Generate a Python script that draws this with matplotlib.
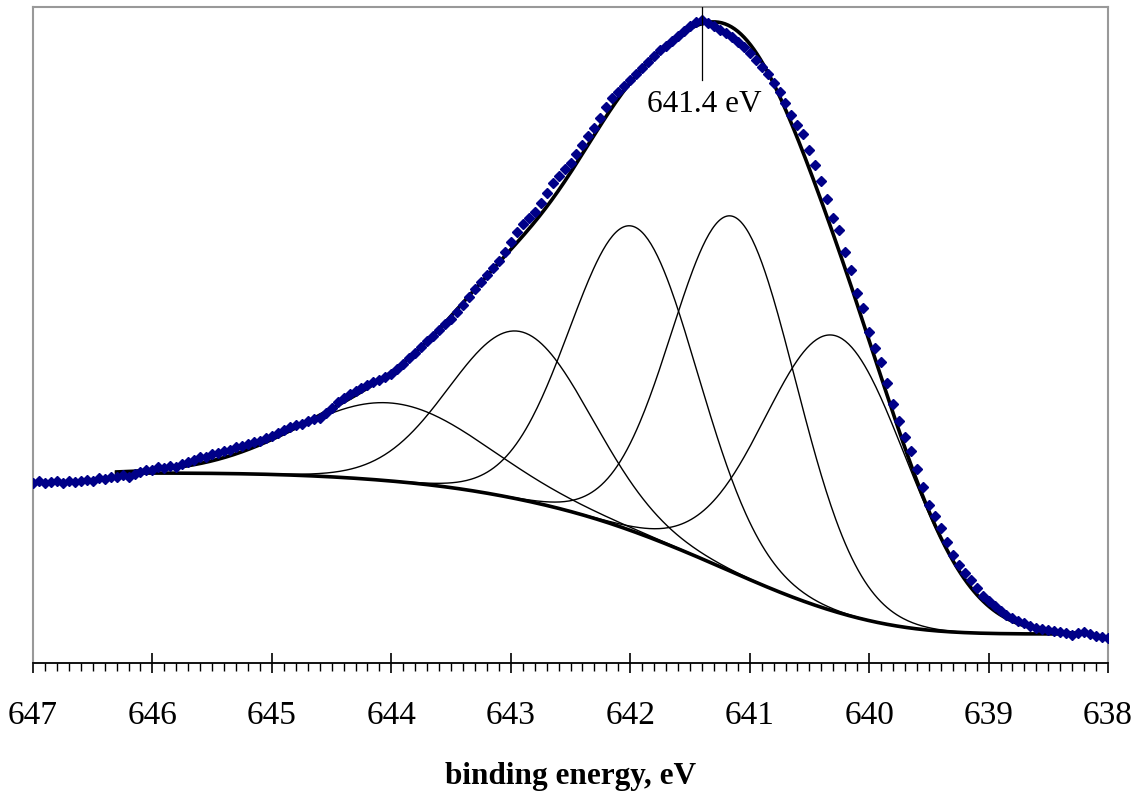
import numpy as np
import matplotlib
matplotlib.use("Agg")
import matplotlib.pyplot as plt
from matplotlib.ticker import MultipleLocator

plt.rcParams['font.family'] = ['Liberation Serif', 'DejaVu Serif']

# measured spectrum: binding energy 647 -> 638 eV, step 0.05 eV (arb. intensity)
energy_start, energy_step = 647.0, 0.05
intensity = [
    180, 182, 180, 181, 182, 180, 182, 181, 182, 183, 182, 185, 184, 186, 186, 188,
    186, 189, 191, 193, 193, 196, 195, 197, 196, 199, 201, 203, 206, 206, 209, 210,
    212, 213, 216, 217, 219, 221, 222, 225, 227, 230, 233, 236, 238, 239, 242, 244,
    245, 250, 255, 261, 265, 269, 272, 275, 278, 281, 283, 286, 289, 294, 299, 305,
    310, 316, 322, 327, 333, 339, 344, 351, 358, 366, 374, 381, 388, 395, 402, 411,
    421, 431, 439, 445, 451, 460, 470, 480, 487, 494, 500, 509, 518, 527, 535, 545,
    556, 565, 571, 577, 583, 589, 595, 601, 607, 613, 617, 622, 627, 632, 637, 641,
    643, 640, 637, 633, 630, 626, 621, 616, 610, 603, 596, 589, 580, 571, 560, 548,
    538, 529, 513, 498, 482, 464, 445, 433, 411, 393, 370, 355, 331, 315, 301, 280,
    259, 242, 226, 212, 194, 176, 158, 147, 135, 121, 108, 98, 90, 83, 75, 67,
    62, 57, 52, 48, 45, 42, 40, 37, 35, 34, 33, 32, 31, 30, 28, 30,
    31, 29, 27, 26, 25,
]
energy = energy_start - energy_step * np.arange(len(intensity))

# fitted components (Gaussian) on a Shirley background
peak_centers = [644.0, 642.92, 641.97, 641.13, 640.28]
peak_heights = [78, 168, 305, 356, 276]
peak_fwhm = [1.85, 1.38, 1.25, 1.22, 1.4]
fit_range = (646.3, 638.25)
bg_high, bg_low = 190, 29
peak_label = 641.4

e_fit = np.linspace(fit_range[1], fit_range[0], 600)
comps = [h * np.exp(-4 * np.log(2) * (e_fit - c) ** 2 / w ** 2)
         for c, h, w in zip(peak_centers, peak_heights, peak_fwhm)]
total = np.sum(comps, axis=0)
area = np.cumsum(total)
bg = bg_low + (bg_high - bg_low) * (area - area[0]) / (area[-1] - area[0])
envelope = total + bg

fig = plt.figure(figsize=(11.36, 7.92), dpi=100)
ax = fig.add_axes([33 / 1136, 1 - 663 / 792, 1075 / 1136, 656 / 792])

ax.plot(e_fit, bg, color='black', lw=2.6, zorder=2)
for comp in comps:
    ax.plot(e_fit, comp + bg, color='black', lw=1.0, zorder=2)
ax.plot(e_fit, envelope, color='black', lw=2.6, zorder=3)
ax.plot(energy, intensity, ls='none', marker='D', ms=5, color='#000088', zorder=4)

ax.plot([peak_label, peak_label], [656, 583], color='black', lw=0.9, zorder=5)
ax.text(peak_label - 0.02, 559, f'{peak_label} eV', ha='center', va='center',
        fontsize=22.5, zorder=6)

ax.set_xlim(647, 638)
ax.set_ylim(0, 656)
ax.xaxis.set_major_locator(MultipleLocator(1))
ax.xaxis.set_minor_locator(MultipleLocator(0.1))
ax.tick_params(axis='x', which='major', direction='inout', length=14, width=1.2,
               labelsize=24, pad=20)
ax.tick_params(axis='x', which='minor', direction='out', length=6, width=1.0)
ax.set_yticks([])
for side in ('left', 'top', 'right'):
    ax.spines[side].set_color('#999999')
    ax.spines[side].set_linewidth(1.5)
ax.spines['bottom'].set_linewidth(1.3)

ax.set_xlabel('binding energy, eV', fontsize=22.5, fontweight='bold', labelpad=22)

fig.savefig('out.png', dpi=100)
